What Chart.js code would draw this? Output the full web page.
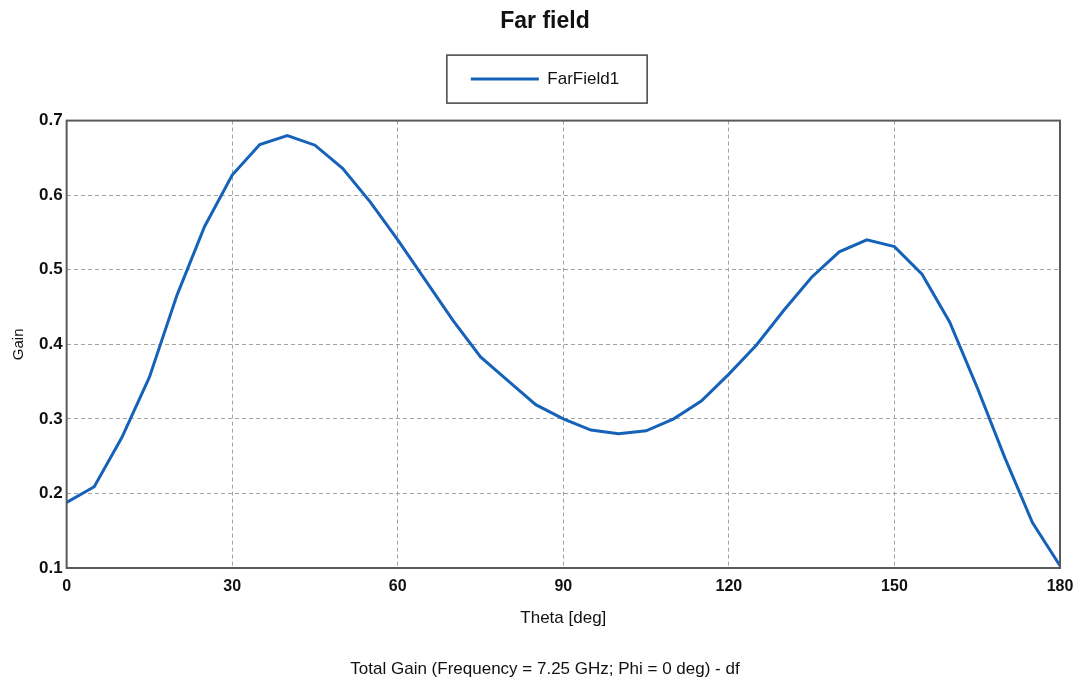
<!DOCTYPE html>
<html>
<head>
<meta charset="utf-8">
<script src="https://cdn.jsdelivr.net/npm/chart.js@4"></script>
<style>
  html, body { margin: 0; padding: 0; background: #fff; }
  #wrap { width: 1079px; height: 684px; }
</style>
</head>
<body>
<div id="wrap"><canvas id="myChart"></canvas></div>
<script>
// theta in degrees, one sample every 5 deg
const theta = [0, 5, 10, 15, 20, 25, 30, 35, 40, 45, 50, 55, 60, 65, 70, 75, 80, 85, 90,
  95, 100, 105, 110, 115, 120, 125, 130, 135, 140, 145, 150, 155, 160, 165, 170, 175, 180];
const gain = [0.188, 0.209, 0.275, 0.356, 0.466, 0.558, 0.627, 0.668, 0.680, 0.667, 0.636,
  0.591, 0.540, 0.486, 0.432, 0.383, 0.351, 0.319, 0.300, 0.285, 0.280, 0.284, 0.300,
  0.324, 0.360, 0.399, 0.446, 0.490, 0.524, 0.540, 0.531, 0.494, 0.430, 0.342, 0.248,
  0.161, 0.103];
const xTicks = [0, 30, 60, 90, 120, 150, 180];
const yTicks = [0.1, 0.2, 0.3, 0.4, 0.5, 0.6, 0.7];

const lineColor = 'rgb(22, 98, 184)';
const ctx = document.getElementById('myChart').getContext('2d');

// frame round the plot area, box round the legend, some layout nudges
const framePlugin = {
  id: 'frame',
  afterInit(chart) {
    // leave room between the legend and the plot
    const lg = chart.legend;
    const fit = lg.fit.bind(lg);
    lg.fit = function () { fit(); this.height += 23; };
  },
  afterLayout(chart) {
    // title, legend and caption sit a bit right of the canvas centre
    chart.boxes.forEach(b => {
      if (!b.axis) { b.left += 8; b.right += 8; }
    });
  },
  afterDraw(chart) {
    const c = chart.ctx;
    const a = chart.chartArea;
    c.save();
    c.strokeStyle = '#5a5a5a';
    c.lineWidth = 2;
    c.strokeRect(a.left, a.top, a.right - a.left, a.bottom - a.top);
    const hb = chart.legend.legendHitBoxes[0];
    if (hb) {
      c.strokeStyle = '#444';
      c.lineWidth = 1.5;
      c.strokeRect(hb.left - 24, hb.top + hb.height / 2 - 24, hb.width + 52, 48);
    }
    c.restore();
  }
};

const chart = new Chart(ctx, {
  type: 'line',
  data: {
    datasets: [{
      label: 'FarField1',
      data: theta.map((t, i) => ({ x: t, y: gain[i] })),
      borderColor: lineColor,
      backgroundColor: lineColor,
      borderWidth: 3,
      pointRadius: 0,
      tension: 0
    }]
  },
  options: {
    responsive: true,
    maintainAspectRatio: false,
    animation: false,
    layout: { padding: { left: 10, right: 15, top: 0, bottom: 4 } },
    plugins: {
      title: {
        display: true,
        text: 'Far field',
        color: '#111',
        font: { family: 'Liberation Sans', size: 23, weight: 'bold' },
        padding: { top: 8, bottom: 19 }
      },
      subtitle: {
        display: true,
        position: 'bottom',
        text: 'Total Gain (Frequency = 7.25 GHz; Phi = 0 deg) - df',
        color: '#111',
        font: { family: 'Liberation Sans', size: 17 },
        padding: { top: 31, bottom: 0 }
      },
      legend: {
        display: true,
        position: 'top',
        labels: {
          color: '#111',
          boxWidth: 68,
          boxHeight: 3,
          font: { family: 'Liberation Sans', size: 17 },
          padding: 16,
          generateLabels: (ch) => Chart.defaults.plugins.legend.labels.generateLabels(ch)
            .map(l => Object.assign(l, { lineWidth: 0 }))
        }
      },
      tooltip: { enabled: false }
    },
    scales: {
      x: {
        type: 'linear',
        min: 0,
        max: 180,
        afterBuildTicks: (axis) => { axis.ticks = xTicks.map(v => ({ value: v })); },
        afterFit: (axis) => { axis.paddingRight = 19; axis.paddingLeft = 0; },
        ticks: {
          color: '#111',
          padding: 9,
          font: { family: 'Liberation Sans', size: 16, weight: 'bold' }
        },
        grid: { color: '#a3a3a3', lineWidth: 1, drawTicks: false },
        border: { display: false, dash: [4, 3] },
        title: {
          display: true,
          text: 'Theta [deg]',
          color: '#111',
          font: { family: 'Liberation Sans', size: 17 },
          padding: { top: 3, bottom: 0 }
        }
      },
      y: {
        min: 0.1,
        max: 0.7,
        afterBuildTicks: (axis) => { axis.ticks = yTicks.map(v => ({ value: v })); },
        ticks: {
          color: '#111',
          padding: 4,
          font: { family: 'Liberation Sans', size: 17, weight: 'bold' },
          callback: (v) => v.toFixed(1)
        },
        grid: { color: '#a3a3a3', lineWidth: 1, drawTicks: false },
        border: { display: false, dash: [4, 3] },
        title: {
          display: true,
          text: 'Gain',
          color: '#111',
          font: { family: 'Liberation Sans', size: 15 },
          padding: { top: 0, bottom: 7 }
        }
      }
    }
  },
  plugins: [framePlugin]
});
</script>
</body>
</html>
